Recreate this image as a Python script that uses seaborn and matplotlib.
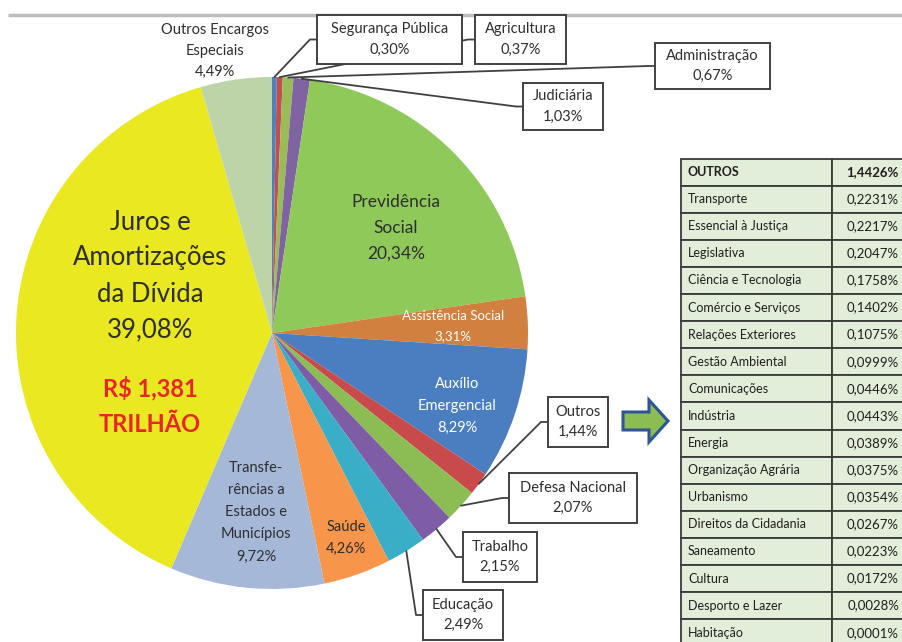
import numpy as np
import seaborn as sns
import matplotlib.pyplot as plt
from matplotlib.patches import Rectangle, FancyArrow

# fatias do gráfico (sentido horário a partir do topo)
sectors = ["Segurança Pública", "Agricultura", "Administração", "Judiciária",
           "Previdência Social", "Assistência Social", "Auxílio Emergencial",
           "Outros", "Defesa Nacional", "Trabalho", "Educação", "Saúde",
           "Transferências a Estados e Municípios",
           "Juros e Amortizações da Dívida", "Outros Encargos Especiais"]
shares = [0.30, 0.37, 0.67, 1.03, 20.34, 3.31, 8.29, 1.44, 2.07, 2.15,
          2.49, 4.26, 9.72, 39.08, 4.49]
sector_colors = ["#4F81BD", "#C0504D", "#9BBB59", "#8064A2", "#8FC95A",
                 "#D2803F", "#4A7EC1", "#C94A4A", "#8CBC54", "#7E5DA6",
                 "#3BAEC7", "#F7954A", "#A6B8D8", "#EAE820", "#BDD3A8"]

# tabela "OUTROS"
others_total = 1.4426
others_items = ["Transporte", "Essencial à Justiça", "Legislativa",
                "Ciência e Tecnologia", "Comércio e Serviços",
                "Relações Exteriores", "Gestão Ambiental", "Comunicações",
                "Indústria", "Energia", "Organização Agrária", "Urbanismo",
                "Direitos da Cidadania", "Saneamento", "Cultura",
                "Desporto e Lazer", "Habitação"]
others_shares = [0.2231, 0.2217, 0.2047, 0.1758, 0.1402, 0.1075, 0.0999,
                 0.0446, 0.0443, 0.0389, 0.0375, 0.0354, 0.0267, 0.0223,
                 0.0172, 0.0028, 0.0001]


def pct(v, d=2):
    return f"{v:.{d}f}".replace(".", ",") + "%"


sns.set_theme(style="white")
plt.rcParams['font.family'] = ['Lato', 'DejaVu Sans']
txt = "#2E2E2E"

W, H = 902, 642
fig = plt.figure(figsize=(W / 100, H / 100), dpi=100)
ax = fig.add_axes([0, 0, 1, 1])

cx, cy, r = 272, 333, 256
wedges, _ = ax.pie(shares, colors=sector_colors, startangle=270,
                   counterclock=True, center=(cx, cy), radius=r,
                   wedgeprops=dict(linewidth=0))
ax.set_xlim(0, W)
ax.set_ylim(H, 0)
ax.set_aspect("equal")
ax.axis("off")

# linha cinza no topo
ax.plot([8, W], [15, 15], color="#BDBDBD", lw=2.5, solid_capstyle="butt")

# rótulos internos
inside = {
    13: (150, 276, ["Juros e", "Amortizações", "da Dívida", pct(shares[13])], 18.5, txt, 36),
    4: (396, 228, ["Previdência", "Social", pct(shares[4])], 12.5, txt, 26),
    5: (453, 326, ["Assistência Social", pct(shares[5])], 9.5, "white", 21),
    6: (457, 406, ["Auxílio", "Emergencial", pct(shares[6])], 10.5, "white", 21.5),
    12: (256, 512, ["Transfe-", "rências a", "Estados e", "Municípios", pct(shares[12])], 10.5, txt, 22.2),
    11: (346, 538, ["Saúde", pct(shares[11])], 10.5, txt, 22),
    14: (215, 51, ["Outros Encargos", "Especiais", pct(shares[14])], 10.5, txt, 21),
}
for i, (x, y, lines, fs, col, lh) in inside.items():
    n = len(lines)
    for k, line in enumerate(lines):
        ax.text(x, y + (k - (n - 1) / 2) * lh, line, ha="center", va="center",
                fontsize=fs, color=col)

ax.text(150, 388, "R$ 1,381", ha="center", va="center", fontsize=17,
        fontweight="bold", color="#E8262A")
ax.text(150, 424, "TRILHÃO", ha="center", va="center", fontsize=17,
        fontweight="bold", color="#E8262A")

# caixas com linhas de chamada: índice -> (x0, y0, x1, y1)
callouts = {
    0: (317, 15, 462, 64),
    1: (475, 15, 566, 64),
    2: (655, 43, 770, 89),
    3: (523, 83, 603, 130),
    7: (548, 397, 608, 447),
    8: (509, 473, 637, 523),
    9: (463, 532, 537, 582),
    10: (423, 590, 503, 640),
}
for i, (x0, y0, x1, y1) in callouts.items():
    w = wedges[i]
    th = np.deg2rad((w.theta1 + w.theta2) / 2)
    ex, ey = cx + r * np.cos(th), cy + r * np.sin(th)
    my = (y0 + y1) / 2
    ax.plot([ex, x0 - 7, x0], [ey, my, my], color="#404040", lw=1.3, zorder=3)
    ax.add_patch(Rectangle((x0, y0), x1 - x0, y1 - y0, fc="white",
                           ec="#404040", lw=1.4, zorder=4))
    name = sectors[i]
    ax.text((x0 + x1) / 2, my - 10, name, ha="center", va="center",
            fontsize=10.5, color=txt, zorder=5)
    ax.text((x0 + x1) / 2, my + 10, pct(shares[i]), ha="center", va="center",
            fontsize=10.5, color=txt, zorder=5)

# seta
ax.add_patch(FancyArrow(623, 421, 45, 0, width=18, head_width=42,
                        head_length=19, length_includes_head=True,
                        fc="#8CBC54", ec="#2F5597", lw=2.2))

# tabela
rows = ["OUTROS"] + others_items
vals = [others_total] + others_shares
top, rh, xl, xd = 158.5, 27.1, 681, 832
for k, (name, v) in enumerate(zip(rows, vals)):
    y0 = top + k * rh
    for xa, wd in [(xl, xd - xl), (xd, 120)]:
        ax.add_patch(Rectangle((xa, y0), wd, rh, fc="#E2EED9", ec="#3A3A3A",
                               lw=1.3))
    bold = "bold" if k == 0 else "normal"
    ax.text(xl + 7, y0 + rh / 2, name, ha="left", va="center", fontsize=9,
            color="#1E1E1E", fontweight=bold)
    ax.text(899, y0 + rh / 2, pct(v, 4), ha="right", va="center", fontsize=9.5,
            color="#1E1E1E", fontweight=bold)

fig.savefig("out.png", dpi=100, facecolor="white")
